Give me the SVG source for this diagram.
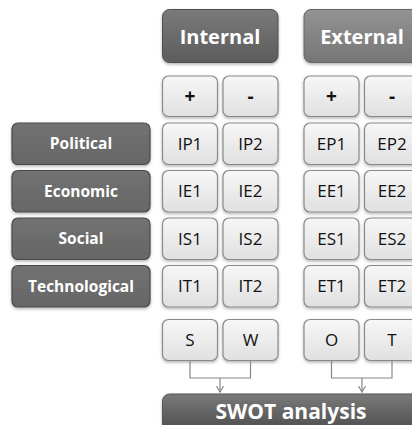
<svg xmlns="http://www.w3.org/2000/svg" width="412" height="425" viewBox="0 0 412 425">
<defs>
<linearGradient id="gDark" x1="0" y1="0" x2="0" y2="1"><stop offset="0" stop-color="#7a7a7a"/><stop offset="1" stop-color="#5c5c5c"/></linearGradient>
<linearGradient id="gExt" x1="0" y1="0" x2="0" y2="1"><stop offset="0" stop-color="#939393"/><stop offset="1" stop-color="#767676"/></linearGradient>
<linearGradient id="gLabel" x1="0" y1="0" x2="0" y2="1"><stop offset="0" stop-color="#727272"/><stop offset="1" stop-color="#666666"/></linearGradient>
<linearGradient id="gLight" x1="0" y1="0" x2="0" y2="1"><stop offset="0" stop-color="#f7f7f7"/><stop offset="1" stop-color="#e0e0e0"/></linearGradient>
<linearGradient id="gBar" x1="0" y1="0" x2="0" y2="1"><stop offset="0" stop-color="#7a7a7a"/><stop offset="1" stop-color="#4a4a4a"/></linearGradient>
<filter id="sh" x="-20%" y="-20%" width="140%" height="150%"><feDropShadow dx="0" dy="1.5" stdDeviation="1.5" flood-color="#000" flood-opacity="0.3"/></filter>
<marker id="arr" markerWidth="8" markerHeight="8" refX="6" refY="4" orient="auto" markerUnits="userSpaceOnUse"><path d="M0,0.5 L6,4 L0,7.5" fill="none" stroke="#888" stroke-width="1.2"/></marker>
</defs>
<style>
.dk{fill:url(#gDark);stroke:#4f4f4f;stroke-width:1;filter:url(#sh)}
.ex{fill:url(#gExt);stroke:#666;stroke-width:1;filter:url(#sh)}
.lb{fill:url(#gLabel);stroke:#4a4a4a;stroke-width:1.2;filter:url(#sh)}
.lt{fill:url(#gLight);stroke:#8a8a8a;stroke-width:1.2;filter:url(#sh)}
.bar{fill:url(#gBar);stroke:#555;stroke-width:1;filter:url(#sh)}
.ht{font-family:"Open Sans","Noto Sans",sans-serif;font-weight:bold;font-size:20px;fill:#fff;text-anchor:middle}
.lbt{font-family:"Open Sans","Noto Sans",sans-serif;font-weight:bold;font-size:15.5px;fill:#fff;text-anchor:middle}
.ct{font-family:"Open Sans","Noto Sans",sans-serif;font-size:17px;fill:#111;text-anchor:middle}
.pm{font-family:"Open Sans","Noto Sans",sans-serif;font-weight:bold;font-size:19px;fill:#111;text-anchor:middle}
.bt{font-family:"Open Sans","Noto Sans",sans-serif;font-weight:bold;font-size:21px;fill:#fff;text-anchor:middle}
.cn{fill:none;stroke:#888;stroke-width:1.2}
</style>
<g id="hdr-internal"><rect class="dk" x="162.5" y="9.5" width="115.5" height="53" rx="7"/><text class="ht" x="220" y="43.5">Internal</text></g>
<g id="hdr-external"><rect class="ex" x="304" y="9.5" width="116" height="53" rx="7"/><text class="ht" x="362" y="43.5">External</text></g>
<g id="i-plus"><rect class="lt" x="162.5" y="76" width="55" height="40.5" rx="6"/><text class="pm" x="190" y="103">+</text></g>
<g id="i-minus"><rect class="lt" x="223" y="76" width="55" height="40.5" rx="6"/><text class="pm" x="250.5" y="103">-</text></g>
<g id="e-plus"><rect class="lt" x="304" y="76" width="55" height="40.5" rx="6"/><text class="pm" x="331.5" y="103">+</text></g>
<g id="e-minus"><rect class="lt" x="364.5" y="76" width="55" height="40.5" rx="6"/><text class="pm" x="392" y="103">-</text></g>
<g id="political"><rect class="lb" x="12" y="123" width="138" height="41.5" rx="6"/><text class="lbt" x="81" y="149">Political</text></g>
<g id="economic"><rect class="lb" x="12" y="170.5" width="138" height="41.5" rx="6"/><text class="lbt" x="81" y="196.5">Economic</text></g>
<g id="social"><rect class="lb" x="12" y="218" width="138" height="41.5" rx="6"/><text class="lbt" x="81" y="244">Social</text></g>
<g id="technological"><rect class="lb" x="12" y="265.5" width="138" height="41.5" rx="6"/><text class="lbt" x="81" y="291.5">Technological</text></g>
<g id="IP1"><rect class="lt" x="162.5" y="123" width="55" height="41.5" rx="6"/><text class="ct" x="190" y="149.5">IP1</text></g>
<g id="IP2"><rect class="lt" x="223" y="123" width="55" height="41.5" rx="6"/><text class="ct" x="250.5" y="149.5">IP2</text></g>
<g id="EP1"><rect class="lt" x="304" y="123" width="55" height="41.5" rx="6"/><text class="ct" x="331.5" y="149.5">EP1</text></g>
<g id="EP2"><rect class="lt" x="364.5" y="123" width="55" height="41.5" rx="6"/><text class="ct" x="392" y="149.5">EP2</text></g>
<g id="IE1"><rect class="lt" x="162.5" y="170.5" width="55" height="41.5" rx="6"/><text class="ct" x="190" y="197">IE1</text></g>
<g id="IE2"><rect class="lt" x="223" y="170.5" width="55" height="41.5" rx="6"/><text class="ct" x="250.5" y="197">IE2</text></g>
<g id="EE1"><rect class="lt" x="304" y="170.5" width="55" height="41.5" rx="6"/><text class="ct" x="331.5" y="197">EE1</text></g>
<g id="EE2"><rect class="lt" x="364.5" y="170.5" width="55" height="41.5" rx="6"/><text class="ct" x="392" y="197">EE2</text></g>
<g id="IS1"><rect class="lt" x="162.5" y="218" width="55" height="41.5" rx="6"/><text class="ct" x="190" y="244.5">IS1</text></g>
<g id="IS2"><rect class="lt" x="223" y="218" width="55" height="41.5" rx="6"/><text class="ct" x="250.5" y="244.5">IS2</text></g>
<g id="ES1"><rect class="lt" x="304" y="218" width="55" height="41.5" rx="6"/><text class="ct" x="331.5" y="244.5">ES1</text></g>
<g id="ES2"><rect class="lt" x="364.5" y="218" width="55" height="41.5" rx="6"/><text class="ct" x="392" y="244.5">ES2</text></g>
<g id="IT1"><rect class="lt" x="162.5" y="265.5" width="55" height="41.5" rx="6"/><text class="ct" x="190" y="292">IT1</text></g>
<g id="IT2"><rect class="lt" x="223" y="265.5" width="55" height="41.5" rx="6"/><text class="ct" x="250.5" y="292">IT2</text></g>
<g id="ET1"><rect class="lt" x="304" y="265.5" width="55" height="41.5" rx="6"/><text class="ct" x="331.5" y="292">ET1</text></g>
<g id="ET2"><rect class="lt" x="364.5" y="265.5" width="55" height="41.5" rx="6"/><text class="ct" x="392" y="292">ET2</text></g>
<g id="S"><rect class="lt" x="162.5" y="319.5" width="55" height="41" rx="6"/><text class="ct" x="190" y="346">S</text></g>
<g id="W"><rect class="lt" x="223" y="319.5" width="55" height="41" rx="6"/><text class="ct" x="250.5" y="346">W</text></g>
<g id="O"><rect class="lt" x="304" y="319.5" width="55" height="41" rx="6"/><text class="ct" x="331.5" y="346">O</text></g>
<g id="T"><rect class="lt" x="364.5" y="319.5" width="55" height="41" rx="6"/><text class="ct" x="392" y="346">T</text></g>
<g id="connectors">
<path class="cn" d="M190,361 V378 H250.5 V361"/>
<path class="cn" d="M220,378 V392" marker-end="url(#arr)"/>
<path class="cn" d="M331.5,361 V378 H392 V361"/>
<path class="cn" d="M362,378 V392" marker-end="url(#arr)"/>
</g>
<g id="swot"><rect class="bar" x="162.5" y="394" width="258" height="40" rx="7"/><text class="bt" x="291" y="418.5">SWOT analysis</text></g>
</svg>
